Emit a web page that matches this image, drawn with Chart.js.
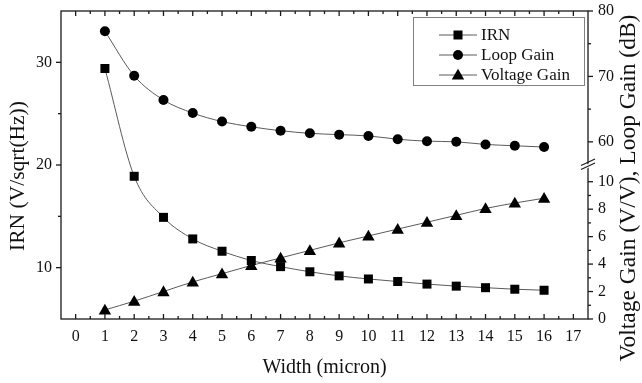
<!DOCTYPE html>
<html>
<head>
<meta charset="utf-8">
<script src="https://cdn.jsdelivr.net/npm/chart.js@4/dist/chart.umd.min.js"></script>
<style>
  html, body { margin: 0; padding: 0; background: #fff; }
  #wrap { width: 642px; height: 383px; }
</style>
</head>
<body>
<div id="wrap"><canvas id="c" width="642" height="383"></canvas></div>
<script>
// Transistor width sweep (micron)
const widths = [1, 2, 3, 4, 5, 6, 7, 8, 9, 10, 11, 12, 13, 14, 15, 16];
// Input-referred noise, V/sqrt(Hz)
const irn = [29.4, 18.9, 14.9, 12.8, 11.6, 10.7, 10.1, 9.6, 9.2, 8.9, 8.65, 8.4, 8.2, 8.05, 7.9, 7.8];
// Loop gain, dB
const loopGain = [76.9, 70.1, 66.4, 64.4, 63.1, 62.3, 61.7, 61.3, 61.1, 60.9, 60.4, 60.1, 60.0, 59.6, 59.4, 59.2];
// Voltage gain, V/V
const voltageGain = [0.66, 1.3, 2.0, 2.7, 3.3, 3.9, 4.45, 5.0, 5.55, 6.05, 6.55, 7.05, 7.55, 8.05, 8.45, 8.8];

const seriesNames = ['IRN', 'Loop Gain', 'Voltage Gain'];
const xTicks = [0, 1, 2, 3, 4, 5, 6, 7, 8, 9, 10, 11, 12, 13, 14, 15, 16, 17];
const irnTicks = [10, 15, 20, 25, 30];
const loopTicks = [60, 65, 70, 75, 80];
const voltTicks = [0, 1, 2, 3, 4, 5, 6, 7, 8, 9, 10];

const SERIF = "'Liberation Serif', 'Times New Roman', serif";
Chart.defaults.font.family = SERIF;
Chart.defaults.color = '#111';

const pts = vals => widths.map((w, i) => ({ x: w, y: vals[i] }));
const setTicks = list => scale => { scale.ticks = list.map(v => ({ value: v })); };
// fixed axis box sizes, no extra room for overhanging end labels
const fixSize = (w, h) => s => {
  if (w !== null) s.width = w;
  if (h !== null) s.height = h;
  s.paddingTop = s.paddingBottom = s.paddingLeft = s.paddingRight = 0;
};

const lineStyle = {
  borderColor: '#5a5a5a',
  borderWidth: 1,
  cubicInterpolationMode: 'monotone',
  fill: false,
  pointRadius: 0,
  pointHoverRadius: 0
};

// Marker shapes shared by plot and legend
function drawMarker(ctx, style, x, y) {
  ctx.beginPath();
  if (style === 'rect') {
    ctx.rect(x - 4.5, y - 4.5, 9, 9);
  } else if (style === 'circle') {
    ctx.arc(x, y, 5, 0, Math.PI * 2);
  } else {
    ctx.moveTo(x, y - 6.2);
    ctx.lineTo(x + 6.2, y + 4.6);
    ctx.lineTo(x - 6.2, y + 4.6);
    ctx.closePath();
  }
  ctx.fill();
}

const frame = {
  id: 'frame',
  afterDraw(chart) {
    const { ctx, chartArea: a, scales } = chart;
    const seg = (x1, y1, x2, y2) => { ctx.beginPath(); ctx.moveTo(x1, y1); ctx.lineTo(x2, y2); ctx.stroke(); };
    ctx.save();
    ctx.strokeStyle = '#1a1a1a';
    ctx.lineWidth = 1.3;
    ctx.strokeRect(a.left, a.top, a.right - a.left, a.bottom - a.top);

    // inward ticks on bottom and top edges, halves as minor
    for (let v = 0; v <= 17; v += 0.5) {
      const px = scales.x.getPixelForValue(v);
      const len = Number.isInteger(v) ? 5 : 3;
      seg(px, a.bottom, px, a.bottom - len);
      seg(px, a.top, px, a.top + len);
    }
    // left axis, outward
    irnTicks.forEach(v => {
      const py = scales.y.getPixelForValue(v);
      seg(a.left, py, a.left - (v % 10 === 0 ? 5 : 3), py);
    });
    // right axis, upper segment
    loopTicks.forEach(v => {
      const py = scales.yLoop.getPixelForValue(v);
      seg(a.right, py, a.right + (v % 10 === 0 ? 5 : 3), py);
    });
    // right axis, lower segment
    voltTicks.forEach(v => {
      const py = scales.yVolt.getPixelForValue(v);
      seg(a.right, py, a.right + (v % 2 === 0 ? 5 : 3), py);
    });

    // axis break marks
    const bx = a.right, by = scales.yVolt.top - 4;
    ctx.fillStyle = '#fff';
    ctx.beginPath();
    ctx.moveTo(bx - 2, by + 1); ctx.lineTo(bx + 2, by - 1);
    ctx.lineTo(bx + 2, by + 3); ctx.lineTo(bx - 2, by + 5);
    ctx.closePath(); ctx.fill();
    ctx.lineWidth = 1.2;
    seg(bx - 7, by + 1.5, bx + 7, by - 5);
    seg(bx - 7, by + 5.5, bx + 7, by - 1);

    // axis titles
    ctx.fillStyle = '#111';
    ctx.textAlign = 'center';
    ctx.textBaseline = 'middle';
    ctx.font = '20px ' + SERIF;
    ctx.fillText('Width (micron)', (a.left + a.right) / 2, 368);
    ctx.save();
    ctx.font = '21.5px ' + SERIF;
    ctx.translate(18, 176);
    ctx.rotate(-Math.PI / 2);
    ctx.fillText('IRN (V/sqrt(Hz))', 0, 0);
    ctx.restore();
    ctx.save();
    ctx.font = '23.5px ' + SERIF;
    ctx.translate(629, 188);
    ctx.rotate(-Math.PI / 2);
    ctx.fillText('Voltage Gain (V/V), Loop Gain (dB)', 0, 0);
    ctx.restore();

    // legend
    const lx = 413.5, ly = 17.5, lw = 171, lh = 68;
    ctx.strokeStyle = '#808080';
    ctx.lineWidth = 1;
    ctx.strokeRect(lx, ly, lw, lh);
    ctx.font = '17px ' + SERIF;
    ctx.textAlign = 'left';
    chart.data.datasets.forEach((ds, i) => {
      const y = 35 + 20 * i;
      ctx.strokeStyle = '#5a5a5a';
      ctx.lineWidth = 1;
      seg(439, y, 477, y);
      ctx.fillStyle = '#000';
      drawMarker(ctx, ds.pointStyle, 458, y);
      ctx.fillStyle = '#111';
      ctx.fillText(ds.label, 481, y + 1);
    });
    ctx.restore();
  }
};

const markers = {
  id: 'markers',
  afterDatasetsDraw(chart) {
    const ctx = chart.ctx;
    ctx.save();
    ctx.fillStyle = '#000';
    chart.data.datasets.forEach((ds, i) => {
      chart.getDatasetMeta(i).data.forEach(p => drawMarker(ctx, ds.pointStyle, p.x, p.y));
    });
    ctx.restore();
  }
};

const tickFont = { size: 16 };

new Chart(document.getElementById('c'), {
  type: 'line',
  data: {
    datasets: [
      Object.assign({ label: seriesNames[0], data: pts(irn), yAxisID: 'y', pointStyle: 'rect' }, lineStyle),
      Object.assign({ label: seriesNames[1], data: pts(loopGain), yAxisID: 'yLoop', pointStyle: 'circle' }, lineStyle),
      Object.assign({ label: seriesNames[2], data: pts(voltageGain), yAxisID: 'yVolt', pointStyle: 'triangle' }, lineStyle)
    ]
  },
  options: {
    responsive: false,
    animation: false,
    events: [],
    layout: { padding: { top: 11, left: 0, right: 0, bottom: 0 } },
    plugins: { legend: { display: false }, tooltip: { enabled: false } },
    scales: {
      x: {
        type: 'linear', min: -0.5, max: 17.5,
        afterBuildTicks: setTicks(xTicks),
        afterFit: fixSize(null, 64),
        grid: { display: false, drawTicks: false },
        border: { display: false },
        ticks: { padding: 8, font: tickFont, maxRotation: 0, autoSkip: false }
      },
      y: {
        type: 'linear', position: 'left', min: 5, max: 35,
        afterBuildTicks: setTicks(irnTicks),
        afterFit: fixSize(61, null),
        grid: { display: false, drawTicks: false },
        border: { display: false },
        ticks: { padding: 9, font: tickFont, autoSkip: false, callback: v => (v % 10 === 0 ? v : '') }
      },
      yLoop: {
        type: 'linear', position: 'right', stack: 'gain', stackWeight: 157,
        min: 56, max: 80,
        afterBuildTicks: setTicks(loopTicks),
        afterFit: fixSize(54, null),
        grid: { display: false, drawTicks: false },
        border: { display: false },
        ticks: { padding: 10, font: tickFont, autoSkip: false, callback: v => (v % 10 === 0 ? v : '') }
      },
      yVolt: {
        type: 'linear', position: 'right', stack: 'gain', stackWeight: 151,
        min: 0, max: 11,
        afterBuildTicks: setTicks(voltTicks),
        afterFit: fixSize(54, null),
        grid: { display: false, drawTicks: false },
        border: { display: false },
        ticks: { padding: 10, font: tickFont, autoSkip: false, callback: v => (v % 2 === 0 ? v : '') }
      }
    }
  },
  plugins: [markers, frame]
});
</script>
</body>
</html>
